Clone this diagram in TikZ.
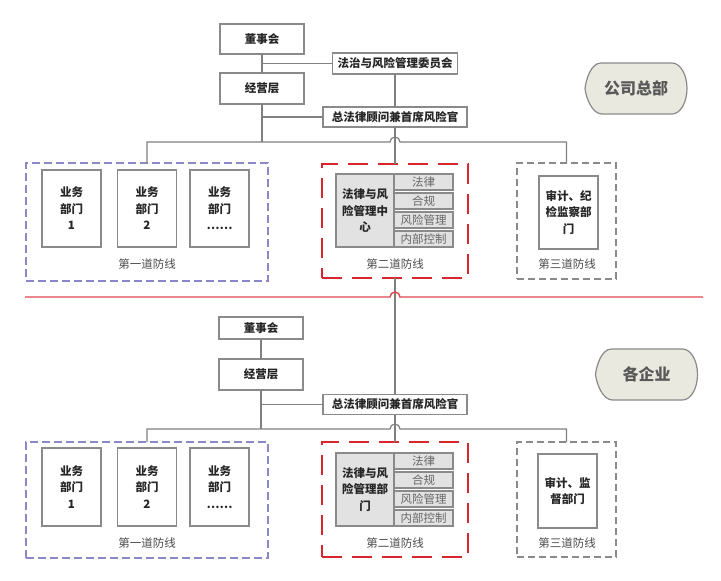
\documentclass[tikz,border=0pt]{standalone}
\usepackage{fontspec}
\setmainfont{Noto Sans CJK SC}
\usetikzlibrary{calc}
\definecolor{linegray}{HTML}{808080}
\definecolor{boxgray}{HTML}{8A8A8A}
\definecolor{cellfill}{HTML}{E2E2E2}
\definecolor{linered}{HTML}{D9262E}
\definecolor{linepurple}{HTML}{8A88C8}
\definecolor{tagfill}{HTML}{E9E9DF}

\begin{document}
\begin{tikzpicture}[x=1pt,y=-1pt,every node/.style={outer sep=0pt,inner sep=0pt,align=center}]

\tikzstyle{box}=[draw=boxgray,line width=1.1pt,fill=white,text=black!85,font=\fontsize{11.5}{16.5}\selectfont\bfseries]
\tikzstyle{dept}=[box,minimum width=59pt,minimum height=77pt]
\tikzstyle{core}=[box,fill=cellfill,minimum width=58pt,minimum height=73pt]
\tikzstyle{cell}=[draw=boxgray,line width=1.1pt,fill=cellfill,text=black!60,minimum width=59pt,minimum height=16pt,font=\fontsize{11.5}{14}\selectfont]
\tikzstyle{tag}=[text=black!70,font=\fontsize{11.5}{14}\selectfont]
\tikzstyle{link}=[draw=linegray,line width=1.2pt]
\tikzstyle{firstline}=[draw=linepurple,line width=1.2pt,dash pattern=on 8pt off 4pt]
\tikzstyle{secondline}=[draw=linered,line width=2.8pt,dash pattern=on 20pt off 10pt]
\tikzstyle{thirdline}=[draw=boxgray,line width=1.2pt,dash pattern=on 7pt off 4pt]
\tikzstyle{sep}=[draw=linered!85,line width=1.4pt]
\tikzstyle{badge}=[draw=boxgray,line width=1.2pt,fill=tagfill]
\tikzstyle{badgetext}=[text=black!65,font=\fontsize{16}{18}\selectfont\bfseries]

\useasboundingbox (0,0) rectangle (721,581);

% 公司总部
\node (dsh1) at (262,39) [box,minimum width=84pt,minimum height=30pt] {董事会};
\node (fzw) at (395,63.5) [box,minimum width=125pt,minimum height=21pt] {法治与风险管理委员会};
\node (jyc1) at (262,88.5) [box,minimum width=84pt,minimum height=31pt] {经营层};
\node (zfl1) at (395,117) [box,minimum width=144pt,minimum height=20pt] {总法律顾问兼首席风险官};
\coordinate (hop1) at (395,142);

\node (line11) at (147,222) [firstline,minimum width=242pt,minimum height=118pt] {};
\node (bu11) at (71.5,208.5) [dept] {业务\\部门\\1};
\node (bu12) at (147,208.5) [dept] {业务\\部门\\2};
\node (bu13) at (219.5,208.5) [dept] {业务\\部门\\……};
\node (tag11) at (147,264) [tag] {第一道防线};

\node (line12) at (395,221) [secondline,minimum width=146pt,minimum height=114pt] {};
\node (ctr1) at (365,210.5) [core] {法律与风\\险管理中\\心};
\node (c11) at (423.5,182) [cell] {法律};
\node (c12) at (423.5,201) [cell] {合规};
\node (c13) at (423.5,220) [cell] {风险管理};
\node (c14) at (423.5,239) [cell] {内部控制};
\node (tag12) at (395,264) [tag] {第二道防线};

\node (line13) at (566.5,221) [thirdline,minimum width=99pt,minimum height=116pt] {};
\node (sj1) at (568.5,212.5) [dept,minimum height=73pt] {审计、纪\\检监察部\\门};
\node (tag13) at (567,264) [tag] {第三道防线};

\draw [link] (dsh1) -- (jyc1);
\draw [link] (dsh1.south |- fzw.west) -- (fzw.west);
\draw [link] (fzw) -- (zfl1);
\draw [link] (jyc1.south |- zfl1.west) -- (zfl1.west);
\draw [link] (jyc1.south) -- (jyc1.south |- hop1);
\draw [link] (zfl1) -- (line12);
\draw [link] (line11.north) |- ($(hop1)+(-5,0)$) arc[start angle=180,end angle=360,radius=5] -| (line13.north);

\coordinate (hqc) at (636,88.5);
\draw [badge] ($(hqc)+(-35,-25.5)$) -- ++(71,0) .. controls +(8.3,0) and +(0,-14) .. ++(15,25.5) .. controls +(0,14) and +(8.3,0) .. ++(-15,25.5) -- ++(-70,0) .. controls +(-10,0) and +(1,9) .. ++(-17,-25.5) .. controls +(1,-9) and +(-10,0) .. ($(hqc)+(-35,-25.5)$) -- cycle;
\node (hq) at (hqc) [badgetext] {公司总部};

% 分界线
\node (dsh2) at (261,328) [box,minimum width=84pt,minimum height=22pt] {董事会};
\node (jyc2) at (261,374.5) [box,minimum width=84pt,minimum height=31pt] {经营层};
\node (zfl2) at (395,404.5) [box,minimum width=144pt,minimum height=20pt] {总法律顾问兼首席风险官};
\coordinate (hop2) at (395,429);

\draw [link] (line12) -- (zfl2);
\coordinate (sepL) at (25,297);
\coordinate (sepR) at (703,297);
\draw [sep] (sepL) -- ($(line12.south |- sepL)+(-5,0)$) arc[start angle=180,end angle=360,radius=5] -- (sepR);

% 各企业
\node (line21) at (147,500) [firstline,minimum width=242pt,minimum height=116pt] {};
\node (bu21) at (71.5,487) [dept,minimum height=78pt] {业务\\部门\\1};
\node (bu22) at (147,487) [dept,minimum height=78pt] {业务\\部门\\2};
\node (bu23) at (219.5,487) [dept,minimum height=78pt] {业务\\部门\\……};
\node (tag21) at (147,543) [tag] {第一道防线};

\node (line22) at (395,499.5) [secondline,minimum width=146pt,minimum height=115pt] {};
\node (ctr2) at (365,489.5) [core] {法律与风\\险管理部\\门};
\node (c21) at (423.5,461) [cell] {法律};
\node (c22) at (423.5,480) [cell] {合规};
\node (c23) at (423.5,499) [cell] {风险管理};
\node (c24) at (423.5,518) [cell] {内部控制};
\node (tag22) at (395,543) [tag] {第二道防线};

\node (line23) at (566.5,499.5) [thirdline,minimum width=99pt,minimum height=115pt] {};
\node (sj2) at (567.5,491) [dept,minimum height=74pt] {审计、监\\督部门};
\node (tag23) at (567,543) [tag] {第三道防线};

\draw [link] (dsh2) -- (jyc2);
\draw [link] (jyc2.south |- zfl2.west) -- (zfl2.west);
\draw [link] (jyc2.south) -- (jyc2.south |- hop2);
\draw [link] (zfl2) -- (line22);
\draw [link] (line21.north) |- ($(hop2)+(-5,0)$) arc[start angle=180,end angle=360,radius=5] -| (line23.north);

\coordinate (qyc) at (646.5,374.5);
\draw [badge] ($(qyc)+(-35,-25.5)$) -- ++(71,0) .. controls +(8.3,0) and +(0,-14) .. ++(15,25.5) .. controls +(0,14) and +(8.3,0) .. ++(-15,25.5) -- ++(-70,0) .. controls +(-10,0) and +(1,9) .. ++(-17,-25.5) .. controls +(1,-9) and +(-10,0) .. ($(qyc)+(-35,-25.5)$) -- cycle;
\node (qy) at (qyc) [badgetext] {各企业};

\end{tikzpicture}
\end{document}
